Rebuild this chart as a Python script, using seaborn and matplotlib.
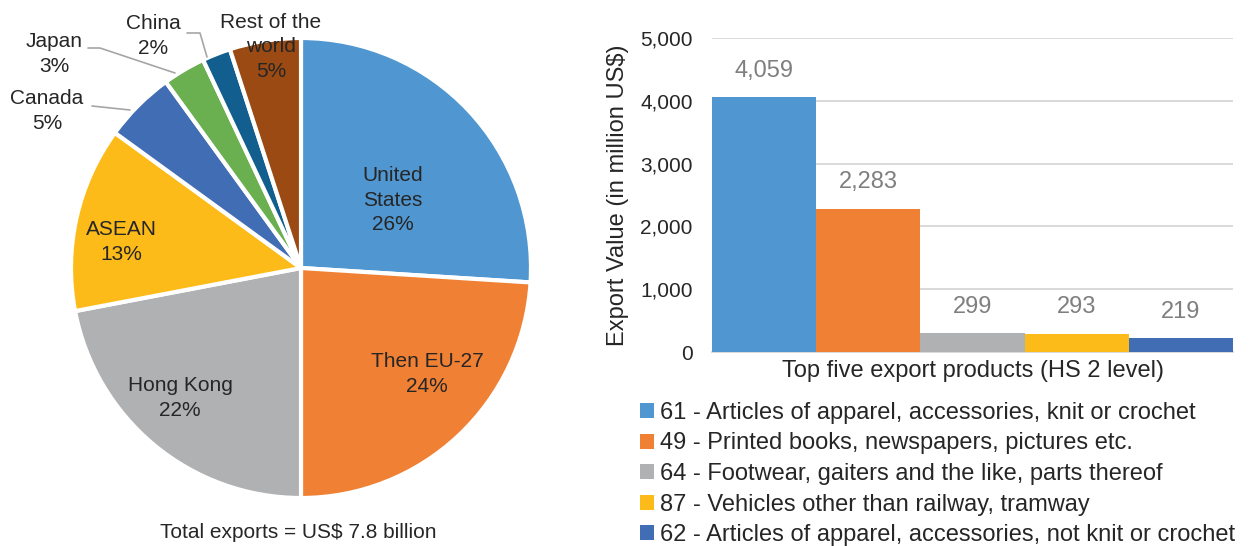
import matplotlib
matplotlib.use("Agg")
import matplotlib.pyplot as plt
from matplotlib.patches import Patch
from matplotlib.ticker import StrMethodFormatter
import seaborn as sns
import pandas as pd

# ---- data ----
markets = ["United\nStates", "Then EU-27", "Hong Kong", "ASEAN", "Canada",
           "Japan", "China", "Rest of the\nworld"]
market_share = [26, 24, 22, 13, 5, 3, 2, 5]
pie_colors = ["#5096D0", "#F08033", "#B0B1B3", "#FDBB1A", "#416DB5",
              "#6AAF50", "#125E8E", "#9A4A12"]

products = ["61 - Articles of apparel, accessories, knit or crochet",
            "49 - Printed books, newspapers, pictures etc.",
            "64 - Footwear, gaiters and the like, parts thereof",
            "87 - Vehicles other than railway, tramway",
            "62 - Articles of apparel, accessories, not knit or crochet"]
export_value = [4059, 2283, 299, 293, 219]
bar_colors = ["#5096D0", "#F08033", "#B0B1B3", "#FDBB1A", "#416DB5"]

sns.set_theme(style="white")
plt.rcParams["font.family"] = ["Liberation Sans", "DejaVu Sans"]
text_col = "#262626"

W, H = 1251, 546
fig = plt.figure(figsize=(W / 100, H / 100), dpi=100)

########    PIE    ########
cx, cy, half = 301, 278, 260   # pixels, cy measured from bottom
ax_pie = fig.add_axes([(cx - half) / W, (cy - half) / H, 2 * half / W, 2 * half / H])
R = 230
wedges, _ = ax_pie.pie(market_share, radius=R, startangle=90, counterclock=False,
                       colors=pie_colors,
                       wedgeprops=dict(edgecolor="white", linewidth=3))
ax_pie.set_xlim(-half, half)
ax_pie.set_ylim(-half, half)
ax_pie.axis("off")

# label offsets from centre, in pixels
label_pos = [(92, 68), (126, -106), (-121, -130), (-180, 26),
             (-254, 157), (-247, 214), (-148, 232), (-30, 221)]
for name, pct, (dx, dy) in zip(markets, market_share, label_pos):
    ax_pie.text(dx, dy, f"{name}\n{pct}%", ha="center", va="center",
                fontsize=15, color=text_col, linespacing=1.35, clip_on=False)

# leader lines for the small slices
leaders = [[(-209, 162), (-171, 158)],
           [(-213, 220), (-201, 220), (-126, 195)],
           [(-114, 235), (-101, 235), (-94, 211)]]
for pts in leaders:
    xs, ys = zip(*pts)
    ax_pie.plot(xs, ys, color="#A6A6A6", lw=1.2, clip_on=False)

fig.text(298 / W, 1 - 533 / H, "Total exports = US$ 7.8 billion",
         ha="center", va="center", fontsize=15, color=text_col)

########    BARS    ########
x0, x1, y0, y1 = 712, 1233, 352, 38
ax_bar = fig.add_axes([x0 / W, 1 - y0 / H, (x1 - x0) / W, (y0 - y1) / H])
df = pd.DataFrame({"product": products, "value": export_value})
sns.barplot(data=df, x="product", y="value", hue="product", palette=bar_colors,
            width=1.0, saturation=1, legend=False, ax=ax_bar, zorder=3,
            edgecolor="none", linewidth=0)

for cont, v in zip(ax_bar.containers, export_value):
    ax_bar.bar_label(cont, labels=[f"{v:,}"], padding=11, fontsize=17,
                     color="#7F7F7F")

ax_bar.set_xlim(-0.5, len(products) - 0.5)
ax_bar.set_ylim(0, 5000)
ax_bar.set_yticks(range(0, 5001, 1000))
ax_bar.yaxis.set_major_formatter(StrMethodFormatter("{x:,.0f}"))
ax_bar.set_xticks([])
ax_bar.grid(axis="y", color="#D9D9D9", lw=1.4, zorder=0)
for s in ["left", "top", "right"]:
    ax_bar.spines[s].set_visible(False)
ax_bar.spines["bottom"].set_color("#D9D9D9")
ax_bar.spines["bottom"].set_linewidth(1.4)
ax_bar.tick_params(axis="y", length=0, pad=14, labelsize=15, labelcolor=text_col)
ax_bar.set_ylabel("Export Value (in million US$)", fontsize=17, color=text_col, labelpad=8)
ax_bar.set_xlabel("Top five export products (HS 2 level)", fontsize=17,
                  color=text_col, labelpad=6)

handles = [Patch(facecolor=c, edgecolor="none") for c in bar_colors]
fig.legend(handles, products, loc="upper left",
           bbox_to_anchor=(640 / W, 1 - 402 / H), frameon=False,
           handlelength=0.6, handleheight=0.6, handletextpad=0.25,
           labelspacing=0.36, fontsize=17, borderpad=0, borderaxespad=0,
           labelcolor=text_col)

fig.savefig("out.png", dpi=100)
